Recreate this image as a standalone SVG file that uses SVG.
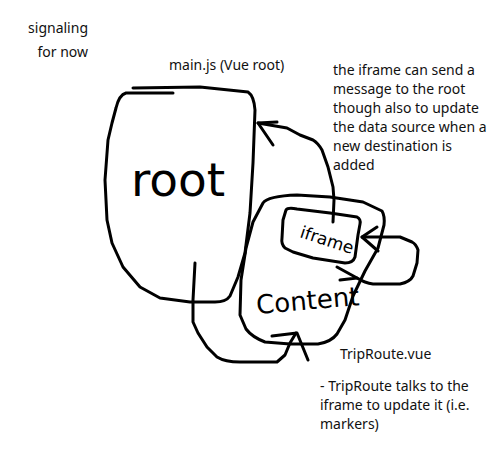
<svg xmlns="http://www.w3.org/2000/svg" width="500" height="450" viewBox="0 0 500 450">
<style>
.s{fill:none;stroke:#000;stroke-width:3;stroke-linecap:round;stroke-linejoin:round}
.t{font-family:"Noto Sans","Open Sans",sans-serif;font-size:14px;fill:#111}
.h{font-family:"DejaVu Sans",sans-serif;fill:#000}
</style>
<rect width="500" height="450" fill="#fff"/>
<g id="labels">
<text class="t" x="88" y="33" text-anchor="end">signaling</text>
<text class="t" x="88" y="57" text-anchor="end">for now</text>
<text class="t" x="169" y="70">main.js (Vue root)</text>
<text class="t" x="333" y="75">the iframe can send a</text>
<text class="t" x="333" y="94">message to the root</text>
<text class="t" x="333" y="113">though also to update</text>
<text class="t" x="333" y="132">the data source when a</text>
<text class="t" x="333" y="151">new destination is</text>
<text class="t" x="333" y="170">added</text>
<text class="t" x="340" y="359">TripRoute.vue</text>
<text class="t" x="320" y="391">- TripRoute talks to the</text>
<text class="t" x="320" y="410">iframe to update it (i.e.</text>
<text class="t" x="320" y="429">markers)</text>
</g>
<g id="node-root">
<path class="s" d="M133,88 L200,87 L248,92 Q254,96 255,110 L253,163 L250,213 L245,253 L238,277 L230,296 Q226,302 215,302 L190,302 L160,298 L140,287 L123,267 L112,243 L107,220 L105,180 L108,140 L112,123 L116,108 Q119,95 126,93 L173,93"/>
<text class="h" x="131" y="196" font-size="47">root</text>
</g>
<g id="node-content">
<path class="s" d="M263,203 Q268,196 297,195 L330,197 L363,202 L382,211 Q385,216 384,225 L378,248 L365,271 L353,296 L345,320 L337,334 Q331,342 318,344 L290,344 L265,342 Q252,337 246,329 L240,315 L241,280 L246,248 L253,222 Z"/>
<text class="h" x="257" y="314" font-size="26" transform="rotate(-5 257 314)">Content</text>
</g>
<g id="node-iframe">
<path class="s" d="M286,210 Q288,207 297,209 L330,213 L357,217 Q361,219 360,224 L358,235 L355,257 Q353,263 345,263 L313,258 L293,252 L285,248 Q281,244 282,238 L283,220 Z"/>
<text class="h" x="299" y="237" font-size="17" transform="rotate(18 299 237)">iframe</text>
</g>
<g id="connectors">
<path class="s" d="M333,222 L334,200 L333,187 L328,167 L322,150 Q318,143 313,140 L300,135 L287,128 L258,123"/>
<path class="s" d="M277,122 L258,123 L273,145"/>
<path class="s" d="M195,263 L193,300 L193,322 L198,333 L207,347 L217,357 Q225,362 240,362 L277,362 L285,355 L290,343 L296,333"/>
<path class="s" d="M272,336 L297,333 L308,360"/>
<path class="s" d="M337,267 L357,278 L340,280"/>
<path class="s" d="M357,278 Q365,283 373,284 L400,284 Q410,282 413,276 L417,263 L418,250 Q416,244 412,242 L400,237 L380,237 L362,237"/>
<path class="s" d="M377,227 L362,237 L378,251"/>
</g>
</svg>
